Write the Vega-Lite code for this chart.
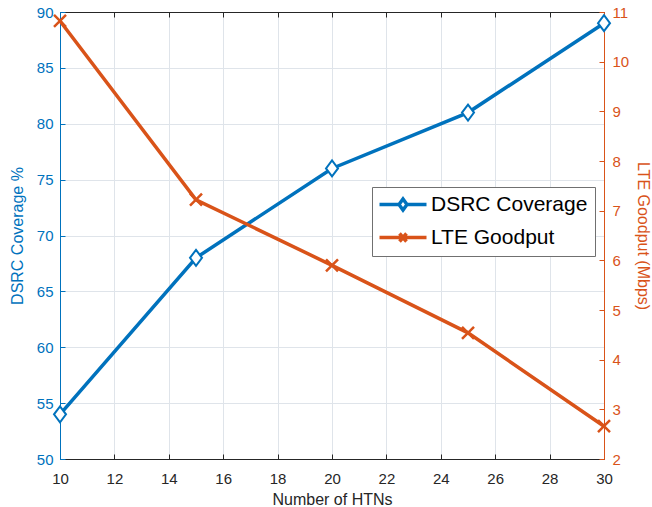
{
  "$schema": "https://vega.github.io/schema/vega-lite/v6.json",
  "width": 544,
  "height": 447,
  "autosize": "none",
  "padding": {"left": 60, "top": 12, "right": 48, "bottom": 48},
  "background": "white",
  "config": {
    "font": "Liberation Sans",
    "view": {"stroke": null},
    "axis": {"labelFont": "Liberation Sans", "titleFont": "Liberation Sans", "labelFontSize": 15, "titleFontSize": 16, "titleFontWeight": "normal", "gridColor": "#dfe4ea", "gridOpacity": 1, "gridWidth": 1, "labelFlush": false, "labelOverlap": false}
  },
  "data": {
    "values": [
      {"n": 10, "dsrc": 54, "lte": 10.82},
      {"n": 15, "dsrc": 68, "lte": 7.22},
      {"n": 20, "dsrc": 76, "lte": 5.9},
      {"n": 25, "dsrc": 81, "lte": 4.54},
      {"n": 30, "dsrc": 89, "lte": 2.66}
    ]
  },
  "layer": [
    {
      "layer": [
        {
          "mark": {"type": "line", "strokeWidth": 3.5},
          "encoding": {
            "x": {"field": "n", "type": "quantitative", "scale": {"domain": [10, 30], "nice": false},
              "axis": {"orient": "bottom", "title": "Number of HTNs", "values": [10,12,14,16,18,20,22,24,26,28,30], "tickSize": -5, "labelPadding": 17, "titlePadding": 5, "domainColor": "#262626", "tickColor": "#262626", "labelColor": "#262626", "titleColor": "#262626", "grid": true}},
            "y": {"field": "dsrc", "type": "quantitative", "scale": {"domain": [50, 90], "nice": false, "zero": false},
              "axis": {"orient": "left", "title": "DSRC Coverage %", "values": [50,55,60,65,70,75,80,85,90], "tickSize": -5, "labelPadding": 12, "titlePadding": 11, "domainColor": "#0072BD", "tickColor": "#0072BD", "labelColor": "#0072BD", "titleColor": "#0072BD", "grid": true}},
            "color": {"datum": "DSRC Coverage", "type": "nominal",
              "scale": {"domain": ["DSRC Coverage", "LTE Goodput"], "range": ["#0072BD", "#D95319"]},
              "legend": {
                "title": null, "orient": "none", "legendX": 312, "legendY": 175,
                "padding": 7, "rowPadding": 9, "labelFontSize": 21, "labelFont": "Liberation Sans", "labelColor": "#000000",
                "labelOffset": 31, "symbolSize": 100, "symbolStrokeWidth": 3.5,
                "strokeColor": "#707070", "fillColor": "white",
                "encode": {
                  "symbols": {
                    "update": {
                      "shape": [
                        {"test": "datum.value === 'DSRC Coverage'", "value": "M-2,0H1.9M3.5,0H7.4M2.7,-1.1L3.5,0L2.7,1.1L1.9,0Z"},
                        {"value": "M-2,0H7.4M2.0,-0.8L3.4,0.8M2.0,0.8L3.4,-0.8"}
                      ],
                      "fill": {"value": "white"}
                    }
                  }
                }
              }
            }
          }
        },
        {
          "mark": {"type": "point", "shape": "M0,-1L0.75,0L0,1L-0.75,0Z", "size": 256, "filled": false, "fill": "white", "stroke": "#0072BD", "strokeWidth": 2, "opacity": 1},
          "encoding": {
            "x": {"field": "n", "type": "quantitative"},
            "y": {"field": "dsrc", "type": "quantitative"}
          }
        }
      ]
    },
    {
      "layer": [
        {
          "mark": {"type": "line", "strokeWidth": 3.5},
          "encoding": {
            "x": {"field": "n", "type": "quantitative",
              "axis": {"orient": "top", "title": null, "labels": false, "grid": false, "values": [10,12,14,16,18,20,22,24,26,28,30], "tickSize": -5, "domainColor": "#262626", "tickColor": "#262626"}},
            "y": {"field": "lte", "type": "quantitative", "scale": {"domain": [2, 11], "nice": false, "zero": false},
              "axis": {"orient": "right", "title": "LTE Goodput (Mbps)", "values": [2,3,4,5,6,7,8,9,10,11], "tickSize": -5, "labelPadding": 13, "titlePadding": 6, "grid": false, "domainColor": "#D95319", "tickColor": "#D95319", "labelColor": "#D95319", "titleColor": "#D95319"}},
            "color": {"datum": "LTE Goodput", "type": "nominal"}
          }
        },
        {
          "mark": {"type": "point", "shape": "M-1,-1L1,1M-1,1L1,-1", "size": 144, "filled": false, "stroke": "#D95319", "strokeWidth": 2.5, "opacity": 1},
          "encoding": {
            "x": {"field": "n", "type": "quantitative"},
            "y": {"field": "lte", "type": "quantitative"}
          }
        }
      ]
    }
  ],
  "resolve": {"scale": {"y": "independent"}, "axis": {"x": "independent"}}
}
